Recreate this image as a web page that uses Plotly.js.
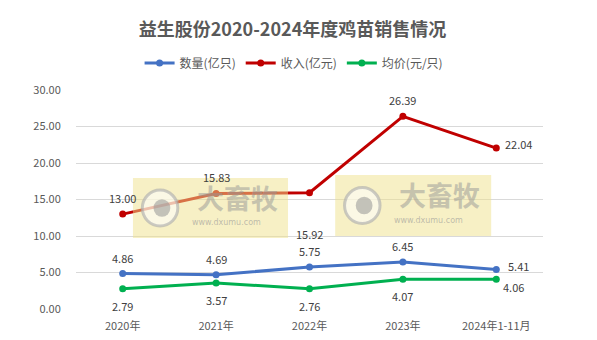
<!DOCTYPE html>
<html><head><meta charset="utf-8">
<script src="https://cdn.plot.ly/plotly-3.0.1.min.js"></script>
<style>body{margin:0;background:#fff}#c{width:597px;height:340px}</style>
</head><body><div id="c"></div>
<script>
const categories = ['2020年','2021年','2022年','2023年','2024年1-11月'];
const quantity = [4.86, 4.69, 5.75, 6.45, 5.41];   // 数量(亿只)
const revenue  = [13.00, 15.83, 15.92, 26.39, 22.04]; // 收入(亿元)
const price    = [2.79, 3.57, 2.76, 4.07, 4.06];  // 均价(元/只)
const yTicks = [0, 5, 10, 15, 20, 25, 30];

const FONT = '"Noto Sans CJK SC", "Noto Sans", sans-serif';
const series = [
  {name:'数量(亿只)', y:quantity, color:'#4472C4', pos:['a','a','a','a','r']},
  {name:'收入(亿元)', y:revenue, color:'#C00000', pos:['a','a','bb','a','r']},
  {name:'均价(元/只)', y:price, color:'#00B050', pos:['b','b','b','b','rb']}
];
const traces = series.map(s => ({
  type:'scatter', mode:'lines+markers', name:s.name, x:categories, y:s.y,
  line:{color:s.color, width:3}, marker:{color:s.color, size:7}, cliponaxis:false
}));
const annotations = [];
series.forEach(s => s.y.forEach((v,i) => {
  const p = s.pos[i];
  let xs=0, ys=0;
  if (p==='a') ys=16; else if (p==='b') ys=-17; else if (p==='bb') ys=-41;
  else if (p==='r') {xs=22; ys=4;} else if (p==='rb') {xs=17; ys=-8;}
  annotations.push({x:categories[i], y:v, xref:'x', yref:'y', text:v.toFixed(2),
    showarrow:false, xshift:xs, yshift:ys, font:{family:FONT, size:11, color:'#404040'}});
}));
// watermarks
const marks = [[0.122,0.454,0.324,0.598],[0.555,0.889,0.333,0.612]];
const shapes = [];
marks.forEach(m => {
  shapes.push({type:'rect', xref:'paper', yref:'paper', x0:m[0], x1:m[1], y0:m[2], y1:m[3],
    fillcolor:'rgba(240,226,140,0.5)', line:{width:0}, layer:'above'});
  const cx = m[0]+0.058, cy=(m[2]+m[3])/2;
  shapes.push({type:'circle', xref:'paper', yref:'paper', x0:cx-0.038, x1:cx+0.038, y0:cy-0.082, y1:cy+0.082,
    fillcolor:'rgba(255,255,255,0.55)', line:{color:'rgba(175,175,175,0.65)', width:3}, layer:'above'});
  shapes.push({type:'circle', xref:'paper', yref:'paper', x0:cx-0.014, x1:cx+0.022, y0:cy-0.04, y1:cy+0.04,
    fillcolor:'rgba(150,150,150,0.55)', line:{width:0}, layer:'above'});
  annotations.push({xref:'paper', yref:'paper', x:m[0]+0.223, y:cy+0.05, xanchor:'center', yanchor:'middle',
    text:'<b>大畜牧</b>', showarrow:false,
    font:{family:FONT, size:27, color:'rgba(150,150,150,0.5)'}});
  annotations.push({xref:'paper', yref:'paper', x:m[0]+0.2, y:cy-0.068, xanchor:'center', yanchor:'middle',
    text:'www.dxumu.com', showarrow:false,
    font:{family:'DejaVu Sans', size:8, color:'rgba(150,150,150,0.6)'}});
});
const layout = {
  width:597, height:340, paper_bgcolor:'#fff', plot_bgcolor:'#fff',
  margin:{l:76, r:54, t:90, b:31, autoexpand:false},
  font:{family:FONT, color:'#595959'},
  title:{text:'<b>益生股份2020-2024年度鸡苗销售情况</b>', x:0.49, xref:'container', xanchor:'center',
    y:0.912, yref:'container', yanchor:'middle',
    font:{family:FONT, size:18, color:'#595959'}},
  showlegend:true,
  legend:{orientation:'h', x:0.467, xanchor:'center', y:1.123, yanchor:'middle',
    font:{family:FONT, size:12, color:'#595959'}},
  xaxis:{type:'category', range:[-0.5,4.5], showgrid:false, zeroline:false, showline:false,
    ticks:'outside', ticklen:7, tickcolor:'rgba(0,0,0,0)', tickangle:0,
    tickfont:{family:FONT, size:11, color:'#595959'}, fixedrange:true, automargin:false},
  yaxis:{range:[0,30], tickvals:yTicks, ticktext:yTicks.map(v=>v.toFixed(2)), showgrid:true,
    gridcolor:'#D9D9D9', gridwidth:1, zeroline:false, showline:false, ticks:'outside', ticklen:12, tickcolor:'rgba(0,0,0,0)',
    tickfont:{family:FONT, size:11, color:'#595959'}, fixedrange:true, automargin:false},
  annotations, shapes
};
Plotly.newPlot('c', traces, layout, {displayModeBar:false, staticPlot:true});
</script></body></html>
